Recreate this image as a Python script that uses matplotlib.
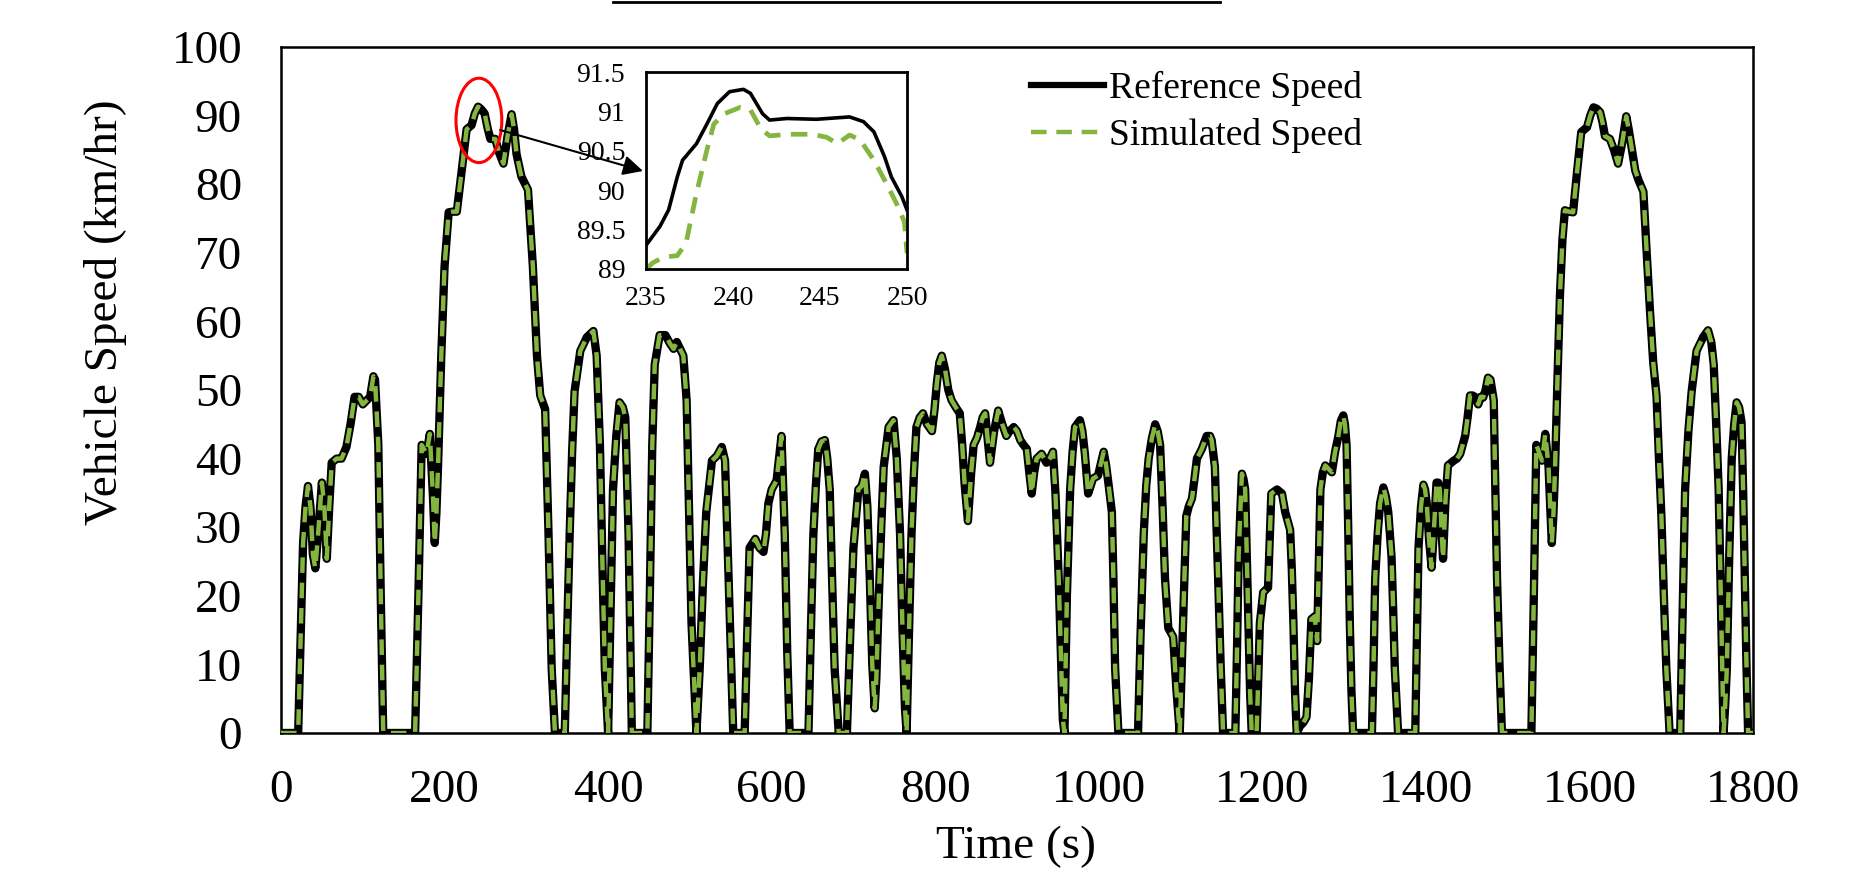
import matplotlib
matplotlib.use("Agg")
import matplotlib.pyplot as plt
from matplotlib.patches import Ellipse
from matplotlib.lines import Line2D

plt.rcParams['font.family'] = ['Liberation Serif', 'DejaVu Serif']

# drive cycle (time in s, speed in km/hr)
time_s = [0, 21, 24, 27, 30, 33, 36, 39, 42, 46, 50, 53, 56, 59, 62, 68, 74, 80, 85, 90,
          95, 100, 105, 109, 113, 115, 119, 122, 125, 164, 168, 172, 178, 182, 186, 188, 190, 192, 196, 200,
          205, 210, 215, 221, 227, 233, 237, 241, 245, 249, 253, 256, 262, 267, 272, 277, 282, 285, 288, 294,
          302, 308, 313, 317, 323, 327, 331, 335, 347, 350, 353, 356, 359, 366, 374, 382, 386, 390, 393, 396,
          400, 403, 406, 410, 414, 418, 421, 425, 429, 448, 451, 454, 457, 463, 470, 476, 480, 484, 488, 492,
          496, 499, 502, 508, 512, 516, 520, 527, 533, 539, 543, 546, 549, 553, 567, 570, 573, 580, 585, 590,
          593, 596, 600, 606, 612, 616, 619, 622, 645, 648, 651, 654, 657, 661, 665, 668, 671, 674, 677, 682,
          692, 696, 700, 706, 710, 714, 717, 720, 723, 726, 728, 730, 734, 737, 743, 749, 753, 757, 760, 763,
          765, 768, 771, 774, 777, 781, 785, 790, 796, 799, 802, 805, 808, 812, 816, 820, 825, 830, 833, 836,
          840, 844, 847, 851, 855, 858, 861, 864, 867, 872, 877, 882, 887, 891, 896, 900, 904, 908, 912, 915,
          918, 921, 924, 930, 936, 940, 944, 947, 951, 954, 956, 958, 961, 965, 968, 971, 977, 980, 983, 987,
          990, 993, 999, 1003, 1006, 1009, 1012, 1016, 1018, 1020, 1024, 1048, 1051, 1055, 1058, 1061, 1065, 1069, 1072, 1075,
          1078, 1081, 1085, 1091, 1093, 1095, 1099, 1101, 1103, 1107, 1110, 1114, 1117, 1120, 1126, 1132, 1136, 1138, 1142, 1144,
          1146, 1149, 1152, 1167, 1169, 1171, 1173, 1175, 1177, 1179, 1181, 1183, 1185, 1187, 1193, 1197, 1201, 1207, 1209, 1211,
          1218, 1224, 1228, 1234, 1236, 1238, 1240, 1242, 1246, 1250, 1254, 1257, 1260, 1264, 1267, 1271, 1274, 1277, 1281, 1285,
          1289, 1293, 1296, 1299, 1301, 1303, 1305, 1307, 1309, 1311, 1334, 1336, 1338, 1341, 1344, 1348, 1351, 1354, 1358, 1360,
          1362, 1366, 1387, 1389, 1391, 1394, 1397, 1399, 1401, 1404, 1407, 1410, 1413, 1415, 1417, 1419, 1421, 1424, 1427, 1434,
          1438, 1442, 1445, 1448, 1451, 1454, 1457, 1460, 1464, 1467, 1470, 1473, 1476, 1479, 1483, 1485, 1487, 1490, 1493, 1529,
          1532, 1535, 1542, 1546, 1550, 1552, 1554, 1556, 1558, 1561, 1564, 1567, 1570, 1575, 1580, 1585, 1590, 1597, 1601, 1605,
          1609, 1613, 1616, 1619, 1625, 1630, 1635, 1640, 1645, 1648, 1652, 1656, 1660, 1666, 1670, 1674, 1678, 1682, 1685, 1688,
          1691, 1694, 1698, 1711, 1714, 1717, 1721, 1725, 1731, 1739, 1745, 1749, 1752, 1755, 1758, 1761, 1764, 1766, 1768, 1771,
          1774, 1777, 1780, 1783, 1786, 1788, 1790, 1792, 1794, 1800]
ref_speed = [0, 0, 14, 27.7, 33, 36, 33, 26, 24, 30, 36.5, 33, 25.4, 33, 39.4, 40, 40, 41.7, 45, 49,
             49, 47.9, 48.5, 49, 52, 51.5, 42, 20, 0, 0, 20, 42, 40.7, 43.6, 34, 27.7, 32, 38.8, 55, 68,
             75.9, 76, 76, 82, 88, 88.6, 90.3, 91.3, 90.9, 90.3, 88, 86.6, 86.6, 84.5, 83, 87, 90.2, 88, 84.4, 81.1,
             79.2, 68, 55, 49.2, 47.2, 29.6, 9.4, 0, 0, 15, 29, 41, 49.8, 55.7, 57.7, 58.6, 55, 42, 25, 9.4,
             0, 18, 35.5, 43.3, 48.2, 47.5, 46, 29, 0, 0, 20, 42, 53.7, 58, 58, 56.7, 56, 57, 56, 55,
             48.5, 32, 16, 0, 9.4, 22, 32.2, 39.7, 40.4, 41.7, 39.7, 28, 16, 0, 0, 14, 27, 28.3, 27, 26.4,
             29, 33.5, 35.5, 36.8, 43.3, 29, 12, 0, 0, 15, 29, 36, 41.4, 42.5, 42.7, 40, 35.5, 22, 9.4, 0,
             0, 14, 27, 35.5, 36, 37.8, 33, 22.5, 10, 3.6, 8, 16, 30, 38.8, 44.6, 45.6, 40, 29, 15, 3.6,
             0, 15, 29, 38, 44.6, 46, 46.6, 45, 44, 47, 51, 54, 55, 53, 50, 48.5, 47.5, 46.6, 42, 36.2,
             30.9, 38, 42, 43, 44.6, 46, 46.6, 43, 39.4, 44, 47, 45, 43.3, 44, 44.6, 44, 42.7, 42, 41.4, 38,
             34.9, 38, 40, 40.7, 39.4, 40, 41, 35, 22.5, 10, 2, 0, 20, 35.5, 41, 44.6, 45.6, 44, 40.7, 34.9,
             36, 37.1, 37.5, 39.5, 41, 39, 36.2, 32.2, 22, 9.4, 0, 0, 14, 29, 36, 40, 43, 45, 44, 42,
             33, 22.5, 15.3, 14, 10, 6.2, 0, 8, 16, 31.6, 33, 34.2, 37, 40, 41.4, 43.3, 43.3, 42.7, 38.8, 30,
             22.5, 10, 0, 0, 12, 25.7, 32, 37.8, 37, 35.5, 26, 16, 6, 0, 0, 16, 20.5, 21.2, 28, 34.9,
             35.5, 34.9, 32.2, 29.6, 24, 16, 6, 0, 1, 1.5, 2.3, 8, 16.6, 17, 13.4, 35.5, 38, 39, 38.5, 38,
             41, 43.3, 45.5, 46.3, 45, 42, 30, 16, 6, 0, 0, 10, 22.5, 29, 33.5, 35.8, 34.5, 32.2, 25.7, 18,
             9.4, 0, 0, 14, 27, 33, 36.2, 35.5, 33.5, 28, 24.1, 30, 36.5, 36.5, 35.5, 30, 25.4, 34, 39, 39.7,
             40, 40.7, 42, 43.3, 46, 49.2, 49.2, 49, 47.9, 49, 48.9, 50, 51.8, 51.5, 48.5, 35, 22.5, 10, 0, 0,
             20, 42, 39.7, 43.6, 38.8, 33, 27.7, 32, 38.8, 52, 64, 72, 76.2, 76, 75.9, 82, 87.6, 88.3, 90, 91.2,
             91, 90.5, 89, 87, 86.6, 85, 83, 86, 89.9, 88, 85, 82, 80.6, 78.9, 70, 61.6, 54, 49.2, 40, 31.6,
             20, 9.4, 0, 0, 18, 35.5, 44, 49.8, 55.7, 57.7, 58.7, 57, 53.7, 45, 35.5, 18, 0, 4, 9.4, 26,
             40, 45, 48.2, 47.5, 45.3, 35, 22.5, 10, 0, 0]
sim_speed = list(ref_speed)  # indistinguishable from the reference at full scale

# zoomed window 235-250 s
inset_t_ref = [235, 235.8, 236.3, 236.8, 237.1, 237.9, 238.5, 239.1, 239.8, 240.6, 241.0,
               241.7, 242.1, 243.1, 244.8, 246.7, 247.5, 248.1, 248.7, 249.1, 249.7, 250]
inset_ref = [89.3, 89.54, 89.75, 90.17, 90.38, 90.59, 90.84, 91.1, 91.25, 91.28, 91.23,
             90.97, 90.89, 90.91, 90.9, 90.93, 90.87, 90.74, 90.43, 90.17, 89.92, 89.75]
inset_t_sim = [235, 235.4, 236, 236.8, 237.3, 237.9, 238.5, 238.9, 239.5, 240.4, 241, 241.6,
               242.1, 243.3, 244.6, 245.4, 246, 246.7, 247.3, 248.1, 248.9, 249.4, 249.85, 250]
inset_sim = [89.0, 89.08, 89.15, 89.17, 89.33, 89.96, 90.51, 90.84, 90.97, 91.05, 91.02, 90.78,
             90.69, 90.71, 90.71, 90.67, 90.59, 90.7, 90.64, 90.38, 90.05, 89.83, 89.6, 89.2]

x_ticks = [0, 200, 400, 600, 800, 1000, 1200, 1400, 1600, 1800]
y_ticks = [0, 10, 20, 30, 40, 50, 60, 70, 80, 90, 100]
inset_x_ticks = [235, 240, 245, 250]
inset_y_ticks = [89, 89.5, 90, 90.5, 91, 91.5]
inset_y_labels = ['89', '89.5', '90', '90.5', '91', '91.5']

green = '#84B53F'
W, H = 1853, 874

fig = plt.figure(figsize=(W / 100, H / 100), dpi=100)
ax = fig.add_axes([281 / W, 1 - 733 / H, 1472 / W, 686 / H])

ax.plot(time_s, ref_speed, color='black', lw=6, label='Reference Speed', zorder=2)
ax.plot(time_s, sim_speed, color=green, lw=3.2, dashes=(3.5, 2.2), label='Simulated Speed', zorder=3)

ax.set_xlim(0, 1800)
ax.set_ylim(0, 100)
ax.set_xticks(x_ticks)
ax.set_yticks(y_ticks)
ax.tick_params(axis='both', length=0, labelsize=34)
ax.tick_params(axis='x', pad=26)
ax.tick_params(axis='y', pad=28)
for s in ax.spines.values():
    s.set_linewidth(1.8)

fig.text(106 / W, 1 - 312 / H, 'Vehicle Speed (km/hr)', rotation=90, ha='center', va='center', fontsize=34)
fig.text(1016 / W, 1 - 847 / H, 'Time (s)', ha='center', va='center', fontsize=34)

leg = ax.legend(loc='upper left', bbox_to_anchor=(1031 / W, 1 - 71 / H), bbox_transform=fig.transFigure,
                frameon=False, fontsize=27, handlelength=1.95, handletextpad=0.12,
                borderpad=0, borderaxespad=0, labelspacing=0.32)
for h in leg.get_lines():
    h.set_linewidth(4.5 if h.get_color() == 'black' else 3.2)

# red marker around the peak and arrow to the zoom window
ax.add_patch(Ellipse((242, 89.3), width=56, height=12.3, fill=False, edgecolor='red', lw=2.2, zorder=4))
ax.annotate('', xy=(643 / W, 1 - 171 / H), xycoords='figure fraction',
            xytext=(268, 87.9), textcoords='data',
            arrowprops=dict(arrowstyle='-|>,head_length=0.6,head_width=0.3', color='black',
                            lw=1.5, mutation_scale=20, shrinkA=0, shrinkB=0), zorder=5)

axin = fig.add_axes([646 / W, 1 - 269 / H, 261 / W, 197 / H])
axin.plot(inset_t_ref, inset_ref, color='black', lw=2.6)
axin.plot(inset_t_sim, inset_sim, color=green, lw=3.4, dashes=(3.5, 2.2))
axin.set_xlim(235, 250)
axin.set_ylim(89, 91.5)
axin.set_xticks(inset_x_ticks)
axin.set_yticks(inset_y_ticks)
axin.set_yticklabels(inset_y_labels)
axin.tick_params(axis='both', length=0, labelsize=20)
axin.tick_params(axis='x', pad=12)
axin.tick_params(axis='y', pad=15)
for s in axin.spines.values():
    s.set_linewidth(2)

# cropped rule from the figure above
fig.add_artist(Line2D([613 / W, 1220 / W], [1 - 1.5 / H, 1 - 1.5 / H], transform=fig.transFigure,
                      color='black', lw=2))

fig.savefig('out.png', dpi=100)
